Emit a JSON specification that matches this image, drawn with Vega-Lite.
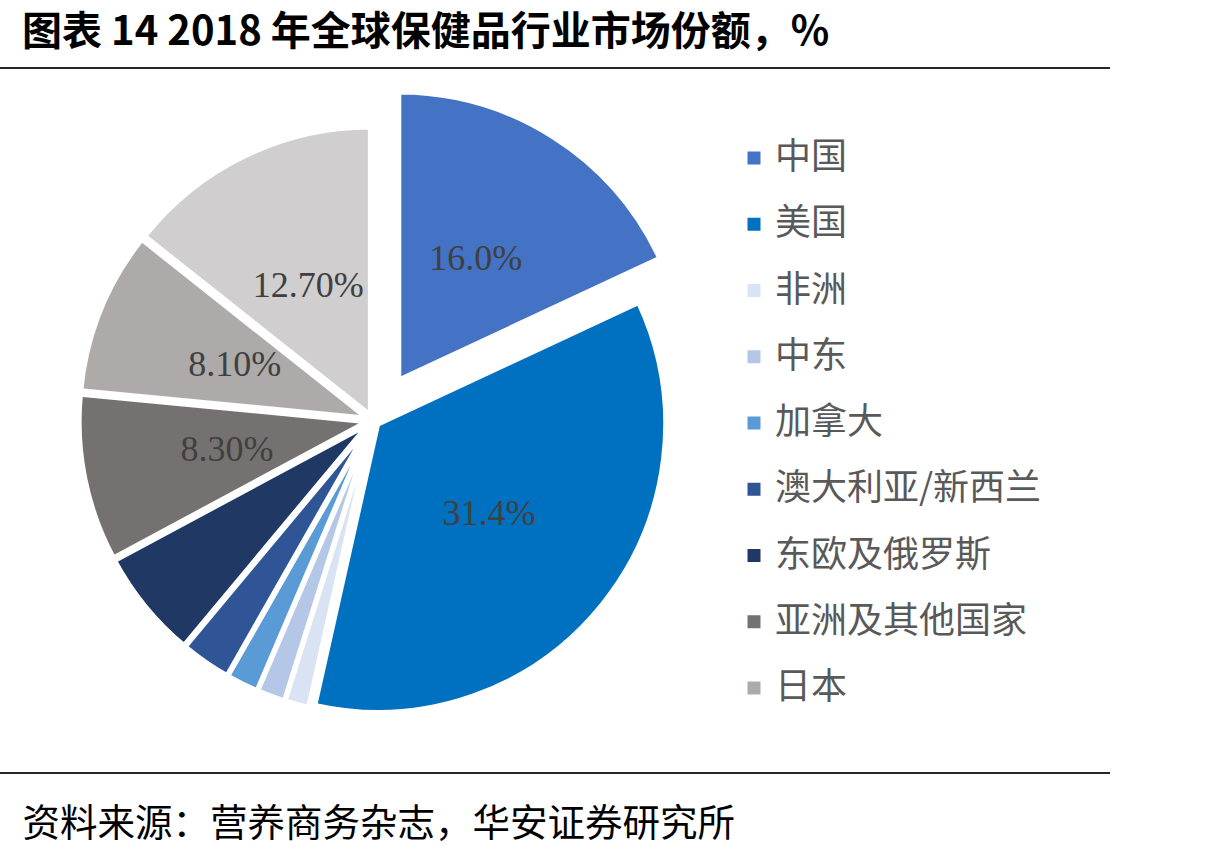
{
  "$schema": "https://vega.github.io/schema/vega-lite/v6.json",
  "width": 1110,
  "height": 705,
  "autosize": {"type": "none"},
  "padding": {"left": 0, "top": 68, "right": 103, "bottom": 81},
  "background": "white",
  "title": {
    "text": "图表 14 2018 年全球保健品行业市场份额，%",
    "anchor": "start",
    "frame": "group",
    "dx": 22,
    "offset": 14,
    "font": "Noto Sans CJK SC",
    "fontSize": 40,
    "fontWeight": "bold",
    "color": "#000000"
  },
  "config": {"view": {"stroke": null}},
  "datasets": {
    "regions": [
      {"seq": 1, "region": "中国", "share": 0.160},
      {"seq": 2, "region": "美国", "share": 0.314},
      {"seq": 3, "region": "非洲", "share": 0.012},
      {"seq": 4, "region": "中东", "share": 0.014},
      {"seq": 5, "region": "加拿大", "share": 0.016},
      {"seq": 6, "region": "澳大利亚/新西兰", "share": 0.025},
      {"seq": 7, "region": "东欧及俄罗斯", "share": 0.054},
      {"seq": 8, "region": "亚洲及其他国家", "share": 0.083},
      {"seq": 9, "region": "日本", "share": 0.081},
      {"seq": 10, "region": "西欧", "share": 0.127}
    ],
    "frame": [
      {"edge": "top"},
      {"edge": "bottom"}
    ]
  },
  "layer": [
    {
      "data": {"name": "regions"},
      "mark": {
        "type": "arc",
        "outerRadius": 288,
        "stroke": "white",
        "strokeWidth": 5,
        "xOffset": {"expr": "-182 + (datum.region === '中国' ? 48 : 6) * sin((scale('theta', datum.share_start) + scale('theta', datum.share_end)) / 2)"},
        "yOffset": {"expr": "-(datum.region === '中国' ? 48 : 6) * cos((scale('theta', datum.share_start) + scale('theta', datum.share_end)) / 2)"}
      },
      "encoding": {
        "theta": {"field": "share", "type": "quantitative", "stack": true},
        "order": {"field": "seq", "type": "quantitative"},
        "color": {
          "field": "region",
          "type": "nominal",
          "scale": {
            "domain": ["中国", "美国", "非洲", "中东", "加拿大", "澳大利亚/新西兰", "东欧及俄罗斯", "亚洲及其他国家", "日本", "西欧"],
            "range": ["#4472C4", "#0070C0", "#DAE3F3", "#B4C7E7", "#5B9BD5", "#2F5597", "#203864", "#767171", "#AEAAAA", "#D0CECE"]
          },
          "legend": {
            "values": ["中国", "美国", "非洲", "中东", "加拿大", "澳大利亚/新西兰", "东欧及俄罗斯", "亚洲及其他国家", "日本"],
            "title": null,
            "orient": "none",
            "legendX": 736,
            "legendY": 72,
            "padding": 0,
            "symbolType": "square",
            "symbolSize": 169,
            "symbolStrokeWidth": 0,
            "labelFont": "Noto Sans CJK SC",
            "labelFontSize": 36,
            "labelColor": "#595959",
            "labelOffset": 3,
            "labelLimit": 400,
            "rowPadding": 30.25,
            "encode": {
              "symbols": {
                "update": {"size": {"signal": "datum.value === '中国' ? 324 : 169"}}
              }
            }
          }
        }
      }
    },
    {
      "data": {"name": "regions"},
      "mark": {
        "type": "text",
        "radius": 143,
        "font": "Liberation Serif",
        "fontSize": 36,
        "color": "#404040",
        "xOffset": {"expr": "-182 + (datum.region === '中国' ? 48 : 6) * sin((scale('theta', datum.share_start) + scale('theta', datum.share_end)) / 2)"},
        "yOffset": {"expr": "-(datum.region === '中国' ? 48 : 6) * cos((scale('theta', datum.share_start) + scale('theta', datum.share_end)) / 2)"}
      },
      "encoding": {
        "theta": {"field": "share", "type": "quantitative", "stack": true},
        "order": {"field": "seq", "type": "quantitative"},
        "text": {
          "field": "share",
          "type": "quantitative",
          "format": ".1%",
          "condition": {"test": "indexof(['中国', '美国'], datum.region) < 0", "value": ""}
        }
      }
    },
    {
      "data": {"name": "regions"},
      "mark": {
        "type": "text",
        "radius": 143,
        "font": "Liberation Serif",
        "fontSize": 36,
        "color": "#404040",
        "xOffset": {"expr": "-182 + (datum.region === '中国' ? 48 : 6) * sin((scale('theta', datum.share_start) + scale('theta', datum.share_end)) / 2)"},
        "yOffset": {"expr": "-(datum.region === '中国' ? 48 : 6) * cos((scale('theta', datum.share_start) + scale('theta', datum.share_end)) / 2)"}
      },
      "encoding": {
        "theta": {"field": "share", "type": "quantitative", "stack": true},
        "order": {"field": "seq", "type": "quantitative"},
        "text": {
          "field": "share",
          "type": "quantitative",
          "format": ".2%",
          "condition": {"test": "indexof(['亚洲及其他国家', '日本', '西欧'], datum.region) < 0", "value": ""}
        }
      }
    },
    {
      "data": {"name": "frame"},
      "mark": {"type": "rule", "color": "#262626", "strokeWidth": 2},
      "encoding": {
        "y": {
          "field": "edge",
          "type": "nominal",
          "scale": {"type": "point", "domain": ["top", "bottom"], "padding": 0},
          "axis": null
        },
        "x": {
          "datum": 0,
          "type": "quantitative",
          "scale": {"domain": [0, 1]},
          "axis": {
            "domain": false,
            "ticks": false,
            "labels": false,
            "grid": false,
            "title": "资料来源：营养商务杂志，华安证券研究所",
            "titleFont": "Noto Sans CJK SC",
            "titleFontSize": 37.5,
            "titleFontWeight": "normal",
            "titleColor": "#000000",
            "titleAnchor": "start",
            "titleAlign": "left",
            "titleBaseline": "alphabetic",
            "titleX": 22,
            "titleY": 62
          }
        },
        "x2": {"datum": 1}
      }
    }
  ]
}
